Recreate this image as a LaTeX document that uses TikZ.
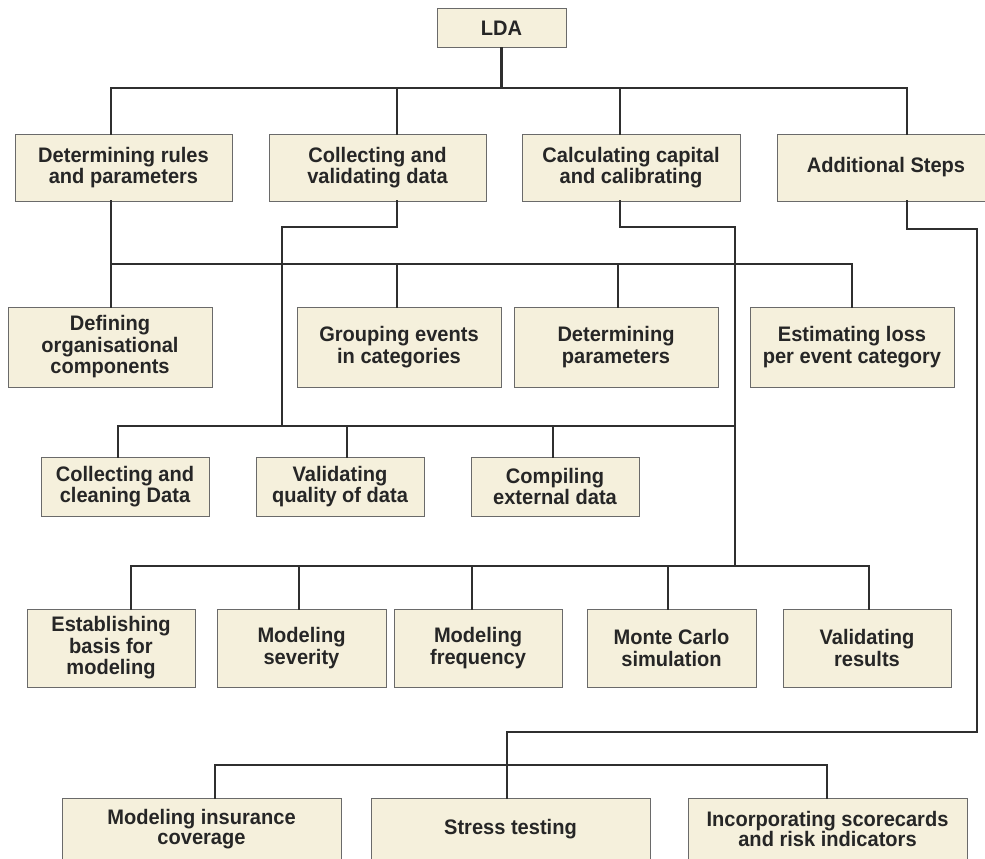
\documentclass[tikz,border=0pt]{standalone}
\usepackage{fontspec}
\newfontfamily\lab{Liberation Sans}[FakeStretch=0.955]
\definecolor{boxfill}{HTML}{F5F0DC}
\definecolor{boxline}{HTML}{6A6A6A}
\definecolor{conncol}{HTML}{2F2F2F}
\definecolor{txt}{HTML}{262626}
\tikzset{
  box/.style={draw=boxline, line width=1pt, fill=boxfill, text=txt,
    font=\lab\bfseries\fontsize{21}{21.5}\selectfont, align=center, inner sep=0pt},
  conn/.style={draw=conncol, line width=2.4pt, line cap=rect},
}
\begin{document}
\begin{tikzpicture}[x=1pt,y=-1pt]
\clip (0,0) rectangle (985,859);
\useasboundingbox (0,0) rectangle (985,859);
% ---- nodes
\node[box, minimum width=129pt, minimum height=39pt] (lda) at (501.5,28.5) {LDA};
% level 1
\node[box, minimum width=217pt, minimum height=67pt] (rules) at (123.5,167.5) {Determining rules\\and parameters};
\node[box, minimum width=217pt, minimum height=67pt] (coll) at (377.5,167.5) {Collecting and\\validating data};
\node[box, minimum width=218pt, minimum height=67pt] (calc) at (631,167.5) {Calculating capital\\and calibrating};
\node[box, minimum width=218pt, minimum height=67pt] (add) at (886,167.5) {Additional Steps};
% level 2
\node[box, minimum width=204pt, minimum height=80pt] (def) at (110,347) {Defining\\organisational\\components};
\node[box, minimum width=204pt, minimum height=80pt] (grp) at (399,347) {Grouping events\\in categories};
\node[box, minimum width=204pt, minimum height=80pt] (detp) at (616,347) {Determining\\parameters};
\node[box, minimum width=204pt, minimum height=80pt] (est) at (852,347) {Estimating loss\\per event category};
% level 3
\node[box, minimum width=168pt, minimum height=59pt] (ccd) at (125,486.5) {Collecting and\\cleaning Data};
\node[box, minimum width=168pt, minimum height=59pt] (vq) at (340,486.5) {Validating\\quality of data};
\node[box, minimum width=168pt, minimum height=59pt] (ced) at (555,486.5) {Compiling\\external data};
% level 4
\node[box, minimum width=168pt, minimum height=78pt] (ebm) at (111,648) {Establishing\\basis for\\modeling};
\node[box, minimum width=169pt, minimum height=78pt] (msev) at (301.5,648) {Modeling\\severity};
\node[box, minimum width=168pt, minimum height=78pt] (mfreq) at (478,648) {Modeling\\frequency};
\node[box, minimum width=169pt, minimum height=78pt] (mcs) at (671.5,648) {Monte Carlo\\simulation};
\node[box, minimum width=168pt, minimum height=78pt] (vres) at (867,648) {Validating\\results};
% level 5
\node[box, minimum width=279pt, minimum height=62pt, font=\lab\bfseries\fontsize{21}{20}\selectfont] (mic) at (201.5,829) {Modeling insurance\\coverage};
\node[box, minimum width=279pt, minimum height=62pt] (stt) at (510.5,829) {Stress testing};
\node[box, minimum width=279pt, minimum height=62pt, font=\lab\bfseries\fontsize{21}{19.5}\selectfont] (isr) at (827.5,829) {Incorporating scorecards\\and risk indicators};
% ---- junction coordinates
\coordinate (b0) at (501.5,88);
\coordinate (b0a) at (111,88);
\coordinate (b0b) at (397,88);
\coordinate (b0c) at (620,88);
\coordinate (b0d) at (907,88);
\coordinate (r1) at (111,264);
\coordinate (r2) at (397,264);
\coordinate (r3) at (618,264);
\coordinate (r4) at (852,264);
\coordinate (c0) at (397,227);
\coordinate (c1) at (282,227);
\coordinate (c2) at (282,426);
\coordinate (c3) at (118,426);
\coordinate (c4) at (347,426);
\coordinate (c5) at (553,426);
\coordinate (c6) at (735,426);
\coordinate (k0) at (620,227);
\coordinate (k1) at (735,227);
\coordinate (k2) at (735,566);
\coordinate (k3) at (131,566);
\coordinate (k4) at (299,566);
\coordinate (k5) at (472,566);
\coordinate (k6) at (668,566);
\coordinate (k7) at (869,566);
\coordinate (a0) at (907,229);
\coordinate (a1) at (977,229);
\coordinate (a2) at (977,732);
\coordinate (a3) at (507,732);
\coordinate (a4) at (215,765);
\coordinate (a5) at (827,765);
% ---- connectors
\draw[conn] (lda.south) -- (b0);
\draw[conn] (b0a) -- (b0d);
\draw[conn] (b0a) -- (b0a |- rules.north);
\draw[conn] (b0b) -- (b0b |- coll.north);
\draw[conn] (b0c) -- (b0c |- calc.north);
\draw[conn] (b0d) -- (b0d |- add.north);
\draw[conn] (r1 |- rules.south) -- (r1);
\draw[conn] (r1) -- (r4);
\draw[conn] (r1) -- (r1 |- def.north);
\draw[conn] (r2) -- (r2 |- grp.north);
\draw[conn] (r3) -- (r3 |- detp.north);
\draw[conn] (r4) -- (r4 |- est.north);
\draw[conn] (c0 |- coll.south) -- (c0) -- (c1) -- (c2);
\draw[conn] (c3) -- (c6);
\draw[conn] (c3) -- (c3 |- ccd.north);
\draw[conn] (c4) -- (c4 |- vq.north);
\draw[conn] (c5) -- (c5 |- ced.north);
\draw[conn] (k0 |- calc.south) -- (k0) -- (k1) -- (k2);
\draw[conn] (k3) -- (k7);
\draw[conn] (k3) -- (k3 |- ebm.north);
\draw[conn] (k4) -- (k4 |- msev.north);
\draw[conn] (k5) -- (k5 |- mfreq.north);
\draw[conn] (k6) -- (k6 |- mcs.north);
\draw[conn] (k7) -- (k7 |- vres.north);
\draw[conn] (a0 |- add.south) -- (a0) -- (a1) -- (a2) -- (a3) -- (a3 |- stt.north);
\draw[conn] (a4) -- (a5);
\draw[conn] (a4) -- (a4 |- mic.north);
\draw[conn] (a5) -- (a5 |- isr.north);
\end{tikzpicture}
\end{document}
